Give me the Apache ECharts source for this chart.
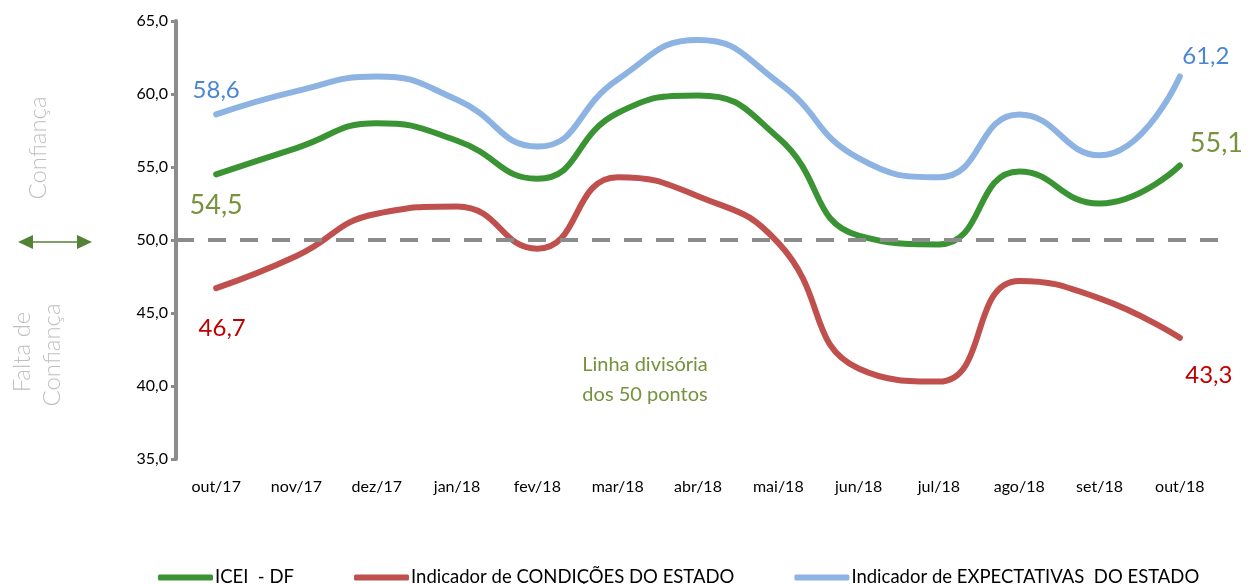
<!DOCTYPE html>
<html>
<head>
<meta charset="utf-8">
<script src="https://cdn.jsdelivr.net/npm/echarts@6/dist/echarts.min.js"></script>
<style>
  html, body { margin: 0; padding: 0; background: #fff; }
  #chart { width: 1256px; height: 584px; }
</style>
</head>
<body>
<div id="chart"></div>
<script>
const months = ['out/17', 'nov/17', 'dez/17', 'jan/18', 'fev/18', 'mar/18', 'abr/18',
    'mai/18', 'jun/18', 'jul/18', 'ago/18', 'set/18', 'out/18'];
const icei = [54.5, 56.3, 58.0, 56.8, 54.2, 58.7, 59.9, 57.0, 50.3, 49.7, 54.7, 52.5, 55.1];
const condicoes = [46.7, 48.9, 51.8, 52.3, 49.4, 54.3, 53.0, 49.8, 41.2, 40.3, 47.2, 46.0, 43.3];
const expectativas = [58.6, 60.2, 61.2, 59.6, 56.4, 61.0, 63.7, 60.8, 55.6, 54.3, 58.6, 55.8, 61.2];
const yTicks = { min: 35, max: 65, interval: 5 };
const divisa = 50;

const fontFamily = 'Lato, "Open Sans", sans-serif';
const fmt = v => v.toFixed(1).replace('.', ',');

// endpoint labels only (first and last point)
function withLabels(values, color, firstLabel, lastLabel) {
    return values.map((v, i) => {
        if (i === 0) return { value: v, label: Object.assign({ show: true, color: color }, firstLabel) };
        if (i === values.length - 1) return { value: v, label: Object.assign({ show: true, color: color }, lastLabel) };
        return v;
    });
}

function lineSeries(name, values, color, labelColor, firstLabel, lastLabel, z) {
    return {
        name: name,
        type: 'line',
        smooth: 0.5,
        showSymbol: true,
        symbol: 'circle',
        symbolSize: 0,
        z: z,
        lineStyle: { color: color, width: 6, cap: 'round' },
        itemStyle: { color: color },
        label: { show: false, fontSize: 24, fontFamily: fontFamily, formatter: p => fmt(p.value) },
        data: withLabels(values, labelColor, firstLabel, lastLabel)
    };
}

const chart = echarts.init(document.getElementById('chart'));

const ser1 = lineSeries('ICEI  - DF', icei, '#3a9434', '#76923c',
    { position: 'bottom', distance: 17, fontSize: 27 },
    { position: 'right', distance: 10, offset: [0, -22], fontSize: 27 }, 4);
ser1.markLine = {
    silent: true,
    symbol: 'none',
    label: { show: false },
    lineStyle: { color: '#8c8c8c', type: [18, 14], width: 4 },
    data: [{ yAxis: divisa }]
};

const option = {
    animation: false,
    textStyle: { fontFamily: fontFamily },
    grid: { left: 176, right: 36, top: 21, bottom: 125 },
    legend: {
        bottom: -8,
        left: 153,
        itemGap: 60,
        itemWidth: 55,
        itemHeight: 6,
        icon: 'roundRect',
        textStyle: { color: '#000', fontSize: 18.5, fontFamily: fontFamily, padding: [0, 0, 0, -3] },
        data: ['ICEI  - DF', 'Indicador de CONDIÇÕES DO ESTADO', 'Indicador de EXPECTATIVAS  DO ESTADO']
    },
    xAxis: {
        type: 'category',
        data: months,
        boundaryGap: true,
        axisLine: { show: false },
        axisTick: { show: false },
        axisLabel: { color: '#000', fontSize: 16, margin: 20, fontFamily: fontFamily }
    },
    yAxis: {
        type: 'value',
        min: yTicks.min,
        max: yTicks.max,
        interval: yTicks.interval,
        axisLine: { show: true, lineStyle: { color: '#8c8c8c', width: 4 } },
        axisTick: { show: true, length: 5, lineStyle: { color: '#8c8c8c', width: 3 } },
        splitLine: { show: false },
        axisLabel: { color: '#000', fontSize: 16, margin: 8, fontFamily: fontFamily, formatter: v => fmt(v) }
    },
    graphic: [
        { type: 'text', x: 38, y: 148, rotation: Math.PI / 2,
          style: { text: 'Confiança', fill: '#bfbfbf', font: '300 24px ' + fontFamily, align: 'center', verticalAlign: 'middle' } },
        { type: 'text', x: 22, y: 352, rotation: Math.PI / 2,
          style: { text: 'Falta de', fill: '#bfbfbf', font: '300 24px ' + fontFamily, align: 'center', verticalAlign: 'middle' } },
        { type: 'text', x: 52, y: 355, rotation: Math.PI / 2,
          style: { text: 'Confiança', fill: '#bfbfbf', font: '300 24px ' + fontFamily, align: 'center', verticalAlign: 'middle' } },
        { type: 'line', shape: { x1: 30, y1: 242, x2: 80, y2: 242 }, style: { stroke: '#538135', lineWidth: 1.5 } },
        { type: 'polygon', shape: { points: [[18, 242], [33, 235], [33, 249]] }, style: { fill: '#538135' } },
        { type: 'polygon', shape: { points: [[92, 242], [77, 235], [77, 249]] }, style: { fill: '#538135' } },
        { type: 'text', x: 645, y: 380,
          style: { text: 'Linha divisória\ndos 50 pontos', fill: '#76923c', font: '20px ' + fontFamily, align: 'center', verticalAlign: 'middle', lineHeight: 30 } }
    ],
    series: [
        ser1,
        lineSeries('Indicador de CONDIÇÕES DO ESTADO', condicoes, '#c0504d', '#c00000',
            { position: 'bottom', distance: 28, offset: [6, 0] },
            { position: 'bottom', distance: 25, offset: [29, 0] }, 3),
        lineSeries('Indicador de EXPECTATIVAS  DO ESTADO', expectativas, '#8db3e2', '#4a86d4',
            { position: 'top', distance: 12 },
            { position: 'top', distance: 8, offset: [26, 0] }, 2)
    ]
};

chart.setOption(option);
</script>
</body>
</html>
